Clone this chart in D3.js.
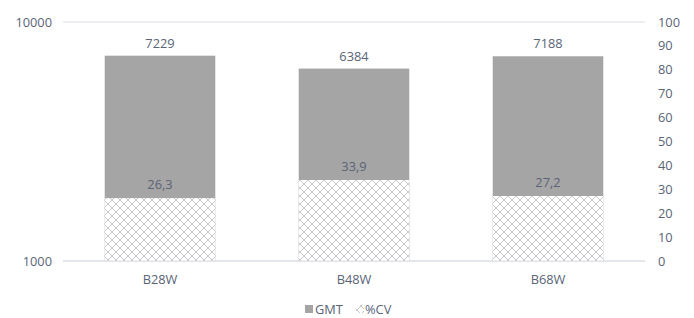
<!DOCTYPE html>
<html>
<head>
<meta charset="utf-8">
<script src="https://cdn.jsdelivr.net/npm/d3@7"></script>
<style>
  body { margin: 0; background: #fff; }
  text { font-family: "Open Sans", "Noto Sans", sans-serif; fill: #5a6477; }
</style>
</head>
<body>
<svg id="chart" width="694" height="318"></svg>
<script>
var categories = ["B28W", "B48W", "B68W"];
var gmt = [7229, 6384, 7188];
var cv = [26.3, 33.9, 27.2];
var cvLabels = ["26,3", "33,9", "27,2"];
var leftTicks = [1000, 10000];
var rightTicks = [0, 10, 20, 30, 40, 50, 60, 70, 80, 90, 100];

var svg = d3.select("#chart");
var plotLeft = 63, plotRight = 645, plotTop = 22, plotBottom = 261;
var fs = 12.8;

var x = d3.scaleBand().domain(categories).range([plotLeft, plotRight]).paddingInner(0.43).paddingOuter(0.215);
var yLog = d3.scaleLog().domain([1000, 10000]).range([plotBottom, plotTop]);
var yLin = d3.scaleLinear().domain([0, 100]).range([plotBottom, plotTop]);

// hatch pattern for %CV
var defs = svg.append("defs");
var pat = defs.append("pattern")
  .attr("id", "hatch")
  .attr("patternUnits", "userSpaceOnUse")
  .attr("width", 8).attr("height", 8);
pat.append("rect").attr("width", 8).attr("height", 8).attr("fill", "#fff");
pat.append("path")
  .attr("d", "M0,0 L8,8 M8,0 L0,8")
  .attr("stroke", "#c2c2c2").attr("stroke-width", 0.9).attr("fill", "none");

// gridlines
svg.append("g").selectAll("line")
  .data(leftTicks)
  .enter().append("line")
  .attr("x1", plotLeft).attr("x2", plotRight)
  .attr("y1", function(d) { return yLog(d); })
  .attr("y2", function(d) { return yLog(d); })
  .attr("stroke", "#d9dde3").attr("stroke-width", 1);

// left axis labels
svg.append("g").selectAll("text")
  .data(leftTicks)
  .enter().append("text")
  .attr("x", 52).attr("y", function(d) { return yLog(d) + 4.5; })
  .attr("text-anchor", "end").attr("font-size", fs)
  .text(function(d) { return d; });

// right axis labels
svg.append("g").selectAll("text")
  .data(rightTicks)
  .enter().append("text")
  .attr("x", 658).attr("y", function(d) { return yLin(d) + 4.5; })
  .attr("font-size", fs)
  .text(function(d) { return d; });

// GMT bars
svg.append("g").selectAll("rect")
  .data(gmt)
  .enter().append("rect")
  .attr("x", function(d, i) { return x(categories[i]); })
  .attr("width", x.bandwidth())
  .attr("y", function(d) { return yLog(d); })
  .attr("height", function(d) { return plotBottom - yLog(d); })
  .attr("fill", "#a5a5a5");

// %CV bars
svg.append("g").selectAll("rect")
  .data(cv)
  .enter().append("rect")
  .attr("x", function(d, i) { return x(categories[i]); })
  .attr("width", x.bandwidth())
  .attr("y", function(d) { return yLin(d); })
  .attr("height", function(d) { return plotBottom - yLin(d); })
  .attr("fill", "url(#hatch)");

// redraw baseline over bars
svg.append("line")
  .attr("x1", plotLeft).attr("x2", plotRight)
  .attr("y1", plotBottom).attr("y2", plotBottom)
  .attr("stroke", "#d9dde3");

// value labels
svg.append("g").selectAll("text")
  .data(gmt)
  .enter().append("text")
  .attr("x", function(d, i) { return x(categories[i]) + x.bandwidth() / 2; })
  .attr("y", function(d) { return yLog(d) - 8; })
  .attr("text-anchor", "middle").attr("font-size", fs)
  .text(function(d) { return d; });

svg.append("g").selectAll("text")
  .data(cv)
  .enter().append("text")
  .attr("x", function(d, i) { return x(categories[i]) + x.bandwidth() / 2; })
  .attr("y", function(d) { return yLin(d) - 9; })
  .attr("text-anchor", "middle").attr("font-size", fs)
  .text(function(d, i) { return cvLabels[i]; });

// category labels
svg.append("g").selectAll("text")
  .data(categories)
  .enter().append("text")
  .attr("x", function(d) { return x(d) + x.bandwidth() / 2; })
  .attr("y", 284)
  .attr("text-anchor", "middle").attr("font-size", fs)
  .text(function(d) { return d; });

// legend
var lg = svg.append("g").attr("transform", "translate(305,314)");
lg.append("rect").attr("x", 0).attr("y", -9).attr("width", 8).attr("height", 8).attr("fill", "#a5a5a5");
lg.append("text").attr("x", 10).attr("y", 0).attr("font-size", fs).text("GMT");
lg.append("rect").attr("x", 51).attr("y", -9).attr("width", 8).attr("height", 8).attr("fill", "url(#hatch)");
lg.append("text").attr("x", 60).attr("y", 0).attr("font-size", fs).text("%CV");
</script>
</body>
</html>
